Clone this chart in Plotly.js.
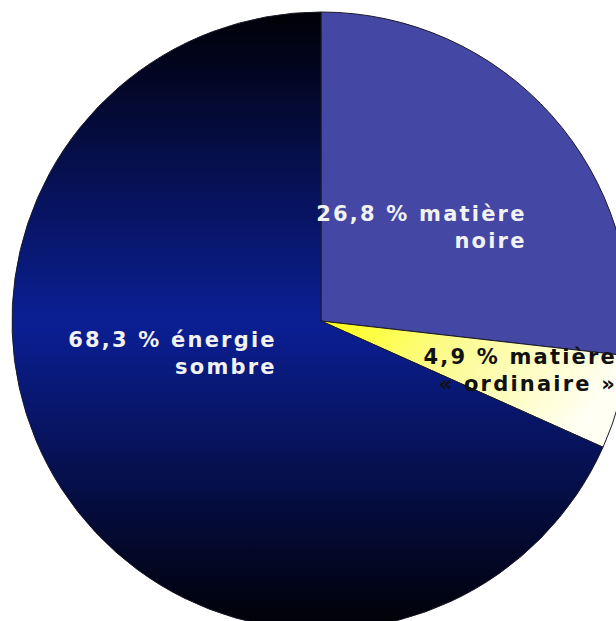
<!DOCTYPE html>
<html>
<head>
<meta charset="utf-8">
<script src="https://cdn.plot.ly/plotly-3.0.1.min.js"></script>
<style>
html, body { margin: 0; padding: 0; overflow: hidden; background: #ffffff; width: 616px; height: 621px; }
#chart { width: 642px; height: 642px; }
</style>
</head>
<body>
<div id="chart"></div>
<script>
// Data
const labels = ["matière<br>noire", "matière<br>« ordinaire »", "énergie<br>sombre"];
const values = [26.8, 4.9, 68.3];
const sliceColors = ["#4447a3", "#ffff66", "#06137a"];
const labelColors = ["#f2f2f2", "#111111", "#f2f2f2"];
// label anchor points (right edge, vertical centre) in paper fractions
const labelX = [0.833, 0.979, 0.429];
const labelY = [0.652, 0.420, 0.447];

function fmt(v) { return v.toFixed(1).replace('.', ',') + ' % '; }

const annotations = values.map((v, i) => ({
  xref: 'paper', yref: 'paper',
  x: labelX[i], y: labelY[i],
  xanchor: 'right', yanchor: 'middle',
  align: 'right',
  showarrow: false,
  text: fmt(v) + labels[i],
  font: { family: 'DejaVu Sans', size: 21, color: labelColors[i], weight: 'bold' },
  borderpad: 0, borderwidth: 0
}));

const trace = {
  type: 'pie',
  labels: labels,
  values: values,
  sort: false,
  direction: 'clockwise',
  rotation: 0,
  textinfo: 'none',
  hoverinfo: 'none',
  marker: { colors: sliceColors, line: { color: '#1a1a2a', width: 1 } },
  domain: { x: [0, 1], y: [0, 1] }
};

const layout = {
  width: 642, height: 642,
  margin: { l: 12, r: 12, t: 12, b: 12, pad: 0 },
  showlegend: false,
  paper_bgcolor: '#ffffff',
  annotations: annotations
};

Plotly.newPlot('chart', [trace], layout, { staticPlot: true, displayModeBar: false }).then(gd => {
  const svg = gd.querySelector('svg.main-svg');
  const NS = 'http://www.w3.org/2000/svg';
  const defs = document.createElementNS(NS, 'defs');
  defs.innerHTML =
    '<linearGradient id="gEnergy" x1="0" y1="0" x2="0" y2="1">' +
      '<stop offset="0" stop-color="#000006"/>' +
      '<stop offset="0.5" stop-color="#0b1f95"/>' +
      '<stop offset="1" stop-color="#000004"/>' +
    '</linearGradient>' +
    '<linearGradient id="gOrdinary" x1="0" y1="0" x2="1" y2="0.3">' +
      '<stop offset="0" stop-color="#ffff10"/>' +
      '<stop offset="0.45" stop-color="#fcfb90"/>' +
      '<stop offset="1" stop-color="#fffff4"/>' +
    '</linearGradient>';
  svg.insertBefore(defs, svg.firstChild);
  const paths = gd.querySelectorAll('g.slice path.surface');
  if (paths.length === 3) {
    paths[1].style.fill = 'url(#gOrdinary)';
    paths[2].style.fill = 'url(#gEnergy)';
  }
  gd.querySelectorAll('text.annotation-text').forEach(t => {
    t.style.letterSpacing = '2.2px';
  });
});
</script>
</body>
</html>
